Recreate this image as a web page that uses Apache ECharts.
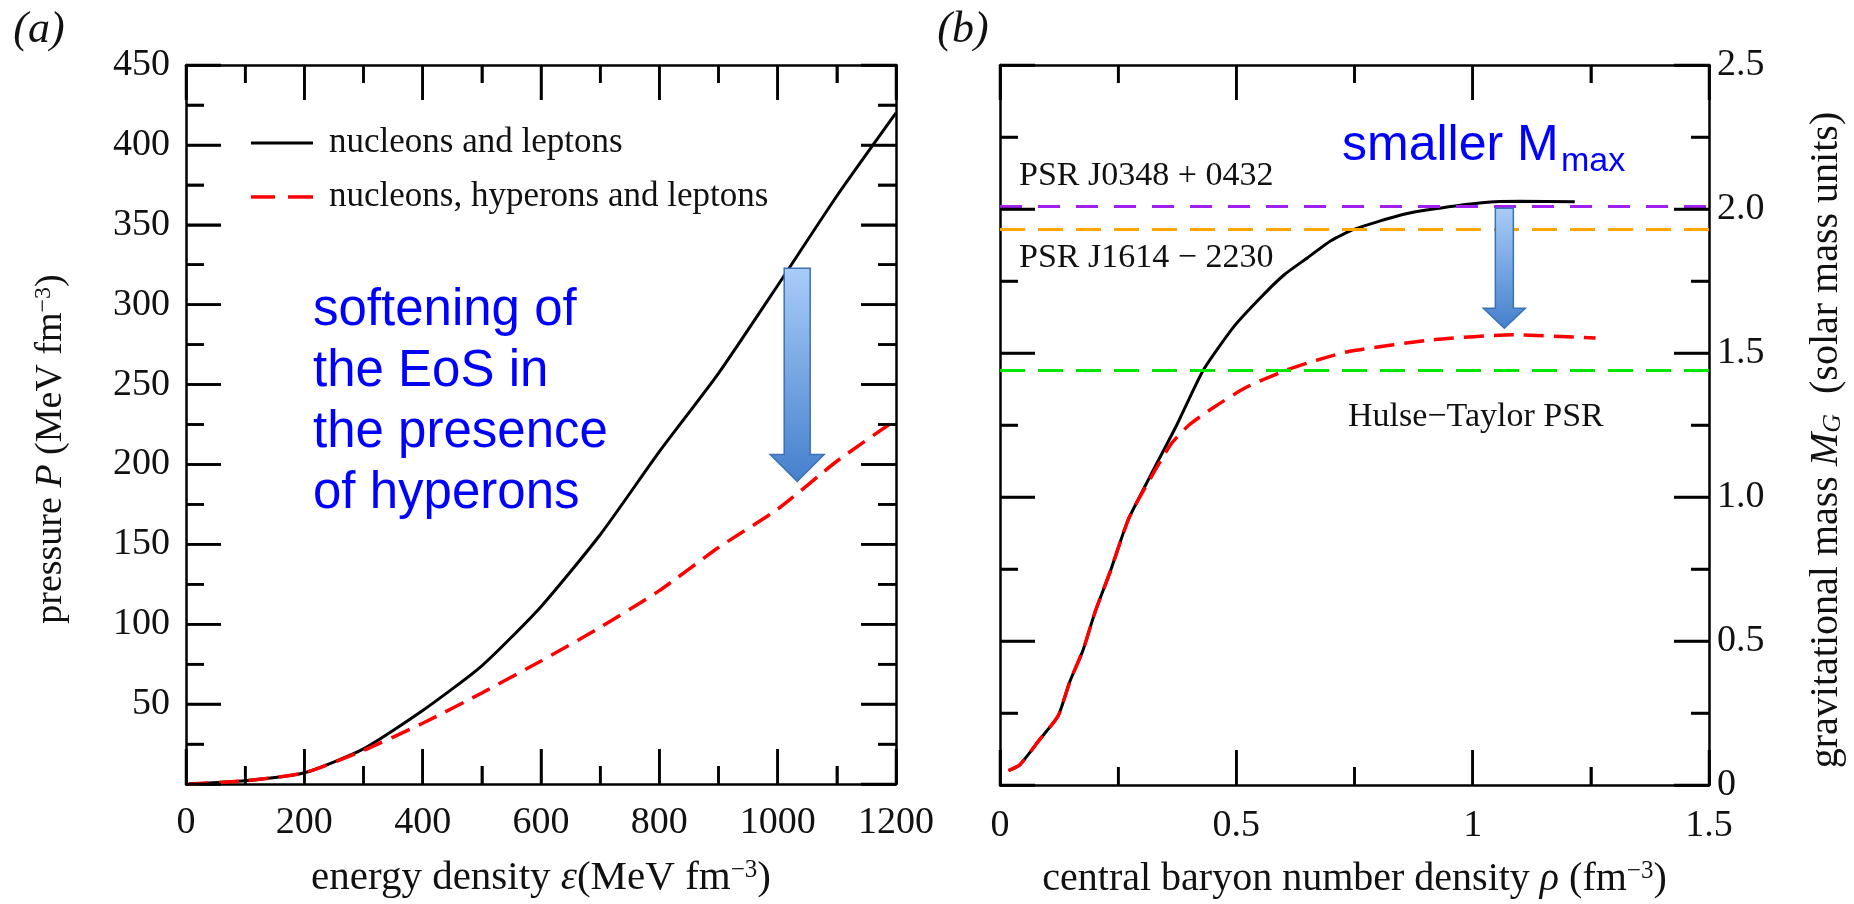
<!DOCTYPE html>
<html>
<head>
<meta charset="utf-8">
<script src="https://cdn.jsdelivr.net/npm/echarts@6/dist/echarts.min.js"></script>
<style>
  html, body { margin: 0; padding: 0; background: #fff; }
  #chart { width: 1854px; height: 904px; }
</style>
</head>
<body>
<div id="chart"></div>
<script>
// Panel (a): pressure vs energy density (MeV fm^-3)
const energyDensity    = [5, 100, 200, 300, 400, 500, 600, 700, 800, 900, 1000, 1100, 1200];
const pressureNucleons = [0, 2, 7, 22, 46, 74, 111, 156, 208, 257, 312, 368, 420];
const pressureHyperons = [0, 2, 7, 21, 38, 57, 77, 98, 121, 148, 172, 202, 228];

// Panel (b): gravitational mass vs central baryon number density (fm^-3)
const densityNucleons = [0.018, 0.042, 0.085, 0.123, 0.148, 0.176, 0.201, 0.233, 0.271, 0.317, 0.374, 0.43, 0.494, 0.55, 0.6, 0.65, 0.7, 0.75, 0.85, 0.917, 1.02, 1.1, 1.216];
const massNucleons    = [0.05, 0.07, 0.16, 0.24, 0.36, 0.47, 0.60, 0.74, 0.92, 1.07, 1.25, 1.44, 1.59, 1.69, 1.77, 1.83, 1.89, 1.93, 1.98, 2.0, 2.022, 2.027, 2.025];
const densityHyperons = [0.018, 0.042, 0.085, 0.123, 0.148, 0.176, 0.201, 0.233, 0.271, 0.296, 0.36, 0.4, 0.451, 0.52, 0.6, 0.67, 0.74, 0.917, 1.086, 1.26];
const massHyperons    = [0.05, 0.07, 0.16, 0.24, 0.36, 0.47, 0.60, 0.74, 0.92, 1.0, 1.18, 1.25, 1.31, 1.38, 1.437, 1.475, 1.506, 1.546, 1.563, 1.552];

// Measured pulsar masses (solar masses)
const pulsarNames  = ['PSR J0348 + 0432', 'PSR J1614 − 2230', 'Hulse−Taylor PSR'];
const pulsarMasses = [2.01, 1.93, 1.44];

const seriesNames = ['nucleons and leptons', 'nucleons, hyperons and leptons'];

// Axis ranges: [min, max, major step]
const epsRange = [0, 1200, 200];
const pressureRange = [0, 450, 50];
const rhoRange = [0, 1.5, 0.5];
const massRange = [0, 2.5, 0.5];

// Down arrows: [x, start value, tip value] in each panel's units
const arrowA = [1033, 322.8, 189.3];
const arrowB = [1.067, 2.003, 1.586];

const SERIF = "'Liberation Serif', 'Times New Roman', serif";
const SANS = "'Liberation Sans', Arial, sans-serif";
const INK = '#111';
const pulsarStyles = [
  { color: '#a020f0', type: [22, 16] },
  { color: '#ffa500', type: [25, 13] },
  { color: '#00e600', type: [25, 13] }
];
const TICK_MAJOR = 35, TICK_MINOR = 18, TICK_WIDTH = 2.5;

const zip = (xs, ys) => xs.map((x, i) => [x, ys[i]]);

function frameAxis(gridIndex, position, range, labels) {
  return {
    type: 'value', gridIndex, position, min: range[0], max: range[1], interval: range[2],
    axisLine: { show: true, onZero: false, lineStyle: { color: '#000', width: 2.5 } },
    axisTick: { show: true, inside: true, length: TICK_MAJOR, lineStyle: { color: '#000', width: TICK_WIDTH } },
    minorTick: { show: true, splitNumber: 2, length: TICK_MINOR, lineStyle: { color: '#000', width: TICK_WIDTH } },
    splitLine: { show: false },
    minorSplitLine: { show: false },
    axisLabel: labels ? Object.assign({
      show: true, fontFamily: SERIF, fontSize: 38, color: INK
    }, labels) : { show: false }
  };
}

const richText = (size) => ({
  i: { fontFamily: SERIF, fontSize: size, fontStyle: 'italic', color: INK },
  sup: { fontFamily: SERIF, fontSize: Math.round(size * 0.62), color: INK, verticalAlign: 'top', lineHeight: 24 },
  sub: { fontFamily: SERIF, fontSize: Math.round(size * 0.66), color: INK, fontStyle: 'italic', verticalAlign: 'bottom', lineHeight: 24 }
});
const nameStyle = (size, extra) => Object.assign({
  fontFamily: SERIF, fontSize: size, color: INK, rich: richText(size)
}, extra || {});

// Panel (a) axes
const xA = frameAxis(0, 'bottom', epsRange, { margin: 20, formatter: v => String(v) });
Object.assign(xA, {
  name: 'energy density {i|ε}(MeV fm{sup|−3})', nameLocation: 'middle', nameGap: 74,
  nameTextStyle: nameStyle(41)
});
const xATop = frameAxis(0, 'top', epsRange, null);
const yA = frameAxis(0, 'left', pressureRange, { margin: 16, formatter: v => (v === 0 ? '' : String(v)) });
const yARight = frameAxis(0, 'right', pressureRange, null);

// Panel (b) axes
const xB = frameAxis(1, 'bottom', rhoRange, { margin: 22, formatter: v => String(v) });
Object.assign(xB, {
  name: 'central baryon number density {i|ρ} (fm{sup|−3})', nameLocation: 'middle', nameGap: 74,
  nameTextStyle: nameStyle(40)
});
const xBTop = frameAxis(1, 'top', rhoRange, null);
const yB = frameAxis(1, 'right', massRange, { margin: 8, formatter: v => (v === 0 ? '0' : v.toFixed(1)) });
Object.assign(yB, {
  name: 'gravitational mass {i|M}{sub|G}  (solar mass units)', nameLocation: 'middle', nameGap: 97,
  nameTextStyle: nameStyle(40, { padding: [0, 30, 0, 0] })
});
const yBLeft = frameAxis(1, 'left', massRange, null);

const blackLine = { color: '#000', width: 3 };
const redDash = { color: '#ff0000', width: 3.5, type: [20, 10] };

function curve(name, xi, yi, data, lineStyle, color) {
  return {
    type: 'line', name, xAxisIndex: xi, yAxisIndex: yi, data,
    symbol: 'none', showSymbol: false, smooth: 0.2,
    lineStyle, itemStyle: { color }, z: 4
  };
}

// Block arrow drawn through the axes of its panel
function arrowSeries(xi, yi, arrow, dims) {
  return {
    type: 'custom', name: 'arrow', xAxisIndex: xi, yAxisIndex: yi, z: 10,
    data: [arrow],
    renderItem: (params, api) => {
      const top = api.coord([api.value(0), api.value(1)]);
      const tip = api.coord([api.value(0), api.value(2)]);
      const cx = top[0], s = dims.shaft / 2, h = dims.head / 2, neck = tip[1] - dims.headLen;
      return {
        type: 'polygon',
        shape: { points: [
          [cx - s, top[1]], [cx + s, top[1]], [cx + s, neck], [cx + h, neck],
          [cx, tip[1]], [cx - h, neck], [cx - s, neck]
        ] },
        style: {
          fill: new echarts.graphic.LinearGradient(0, 0, 0, 1, [
            { offset: 0, color: '#a9ccf9' },
            { offset: 1, color: '#4480cc' }
          ]),
          stroke: '#3c72b4',
          lineWidth: 1.5
        }
      };
    }
  };
}

const option = {
  animation: false,
  grid: [
    { left: 186, top: 65, width: 710, height: 725 },
    { left: 1000, top: 65, width: 709, height: 725 }
  ],
  xAxis: [xA, xATop, xB, xBTop],
  yAxis: [yA, yARight, yB, yBLeft],
  series: [
    curve(seriesNames[0], 0, 0, zip(energyDensity, pressureNucleons), blackLine, '#000'),
    curve(seriesNames[1], 0, 0, zip(energyDensity, pressureHyperons), redDash, '#ff0000'),
    {
      type: 'line', name: 'pulsars', xAxisIndex: 2, yAxisIndex: 2, data: [],
      z: 2,
      markLine: {
        silent: true, symbol: 'none', animation: false,
        label: { show: false },
        data: pulsarMasses.map((m, i) => ({
          name: pulsarNames[i], yAxis: m,
          lineStyle: { color: pulsarStyles[i].color, width: 3, type: pulsarStyles[i].type }
        }))
      }
    },
    curve(seriesNames[0], 2, 2, zip(densityNucleons, massNucleons), blackLine, '#000'),
    curve(seriesNames[1], 2, 2, zip(densityHyperons, massHyperons), redDash, '#ff0000'),
    arrowSeries(0, 0, arrowA, { shaft: 26, head: 54, headLen: 27 }),
    arrowSeries(2, 2, arrowB, { shaft: 18, head: 42, headLen: 20 })
  ]
};

const chart = echarts.init(document.getElementById('chart'), null, { renderer: 'canvas' });
chart.setOption(option);

const label = (x, y, text, font, fill, align) => ({
  type: 'text', x, y, z: 10, silent: true,
  style: { text, font, fill, textAlign: align || 'left', textVerticalAlign: 'middle' }
});
const bar = (x, y, w, h, fill) => ({
  type: 'rect', z: 10, silent: true, shape: { x, y, width: w, height: h }, style: { fill }
});

// Inward frame ticks on all four sides, positioned through each panel's axes
function frameTicks(finder, xRange, yRange) {
  const out = [];
  const steps = (r) => {
    const s = [];
    const n = Math.round((r[1] - r[0]) / (r[2] / 2));
    for (let k = 0; k <= n; k++) s.push([r[0] + k * r[2] / 2, k % 2 === 0 ? TICK_MAJOR : TICK_MINOR]);
    return s;
  };
  const w = TICK_WIDTH;
  steps(xRange).forEach(([v, len]) => {
    const b = chart.convertToPixel(finder, [v, yRange[0]]);
    const t = chart.convertToPixel(finder, [v, yRange[1]]);
    out.push(bar(b[0] - w / 2, b[1] - len, w, len, '#000'));
    out.push(bar(t[0] - w / 2, t[1], w, len, '#000'));
  });
  steps(yRange).forEach(([v, len]) => {
    const l = chart.convertToPixel(finder, [xRange[0], v]);
    const r = chart.convertToPixel(finder, [xRange[1], v]);
    out.push(bar(l[0], l[1] - w / 2, len, w, '#000'));
    out.push(bar(r[0] - len, r[1] - w / 2, len, w, '#000'));
  });
  return out;
}

chart.setOption({
  graphic: [].concat(
    frameTicks({ xAxisIndex: 0, yAxisIndex: 0 }, epsRange, pressureRange),
    frameTicks({ xAxisIndex: 2, yAxisIndex: 2 }, rhoRange, massRange),
    [
      // key for the two compositions
      bar(251, 141.5, 62, 3, '#000'),
      label(329, 143, seriesNames[0], '35px ' + SERIF, INK),
      bar(251, 195.2, 24, 3.5, '#ff0000'),
      bar(288, 195.2, 25, 3.5, '#ff0000'),
      label(329, 197, seriesNames[1], '35px ' + SERIF, INK),
      {
        // y-axis title of panel (a), reading bottom to top
        type: 'text', x: 51, y: 449, rotation: Math.PI / 2, z: 10, silent: true,
        style: {
          text: 'pressure {i|P} (MeV fm{sup|−3})',
          fontFamily: SERIF, fontSize: 38, fill: INK, rich: richText(38),
          textAlign: 'center', textVerticalAlign: 'middle'
        }
      },
      {
        type: 'text', x: 313, y: 280, z: 10, silent: true,
        style: {
          text: 'softening of\nthe EoS in\nthe presence\nof hyperons',
          font: '51px ' + SANS, fill: '#0000ff', lineHeight: 61,
          textAlign: 'left', textVerticalAlign: 'top'
        }
      },
      label(1342, 146, 'smaller M', '50px ' + SANS, '#0000ff'),
      label(1561, 161.5, 'max', '34px ' + SANS, '#0000ff'),
      label(1019, 176, pulsarNames[0], '34px ' + SERIF, INK),
      label(1019, 258, pulsarNames[1], '34px ' + SERIF, INK),
      label(1348, 417, pulsarNames[2], '34px ' + SERIF, INK),
      label(39, 30, '(a)', 'italic 44px ' + SERIF, INK, 'center'),
      label(963, 30, '(b)', 'italic 44px ' + SERIF, INK, 'center')
    ]
  )
});
</script>
</body>
</html>
